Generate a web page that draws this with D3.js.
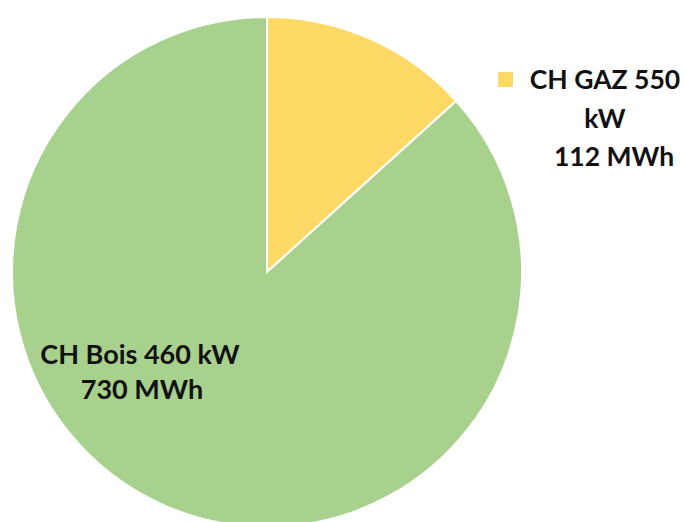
<!DOCTYPE html>
<html>
<head>
    <meta charset="utf-8" />
    <title>Chaufferie</title>
    <script src="https://d3js.org/d3.v7.min.js"></script>
    <style>
        body { margin: 0; background: #fff; }
        text { font-family: Lato, "Open Sans", sans-serif; font-weight: bold; fill: #111; }
    </style>
</head>
<body>
    <script type="text/javascript">
        // data
        var names = ['CH GAZ 550 kW', 'CH Bois 460 kW'];
        var energy = [112, 730];
        var units = ['112 MWh', '730 MWh'];
        var colors = ['#ffd966', '#a9d18e'];

        var width = 685;
        var height = 522;
        var cx = 267, cy = 272, radius = 255;

        var svg = d3.select('body')
            .append('svg')
            .attr('width', width)
            .attr('height', height);

        var pie = d3.pie().sort(null).value(function (d) { return d; });
        var arc = d3.arc().innerRadius(0).outerRadius(radius);

        var g = svg.append('g')
            .attr('transform', 'translate(' + cx + ',' + cy + ')');

        g.selectAll('path')
            .data(pie(energy))
            .enter()
            .append('path')
            .attr('d', arc)
            .attr('fill', function (d, i) { return colors[i]; })
            .attr('stroke', '#ffffff')
            .attr('stroke-width', 2);

        // data label inside the wood slice
        var bois = svg.append('text')
            .attr('text-anchor', 'middle')
            .style('font-size', '27px');
        bois.append('tspan').attr('x', 140).attr('y', 364).text(names[1]);
        bois.append('tspan').attr('x', 142).attr('y', 399).text(units[1]);

        // legend for the gas slice
        svg.append('rect')
            .attr('x', 498).attr('y', 72)
            .attr('width', 15).attr('height', 15)
            .attr('fill', colors[0]);

        var gaz = svg.append('text')
            .attr('text-anchor', 'middle')
            .style('font-size', '26.5px');
        gaz.append('tspan').attr('x', 605).attr('y', 89).text('CH GAZ 550');
        gaz.append('tspan').attr('x', 605).attr('y', 128).text('kW');
        gaz.append('tspan').attr('x', 614).attr('y', 166).text(units[0]);
    </script>
</body>
</html>
